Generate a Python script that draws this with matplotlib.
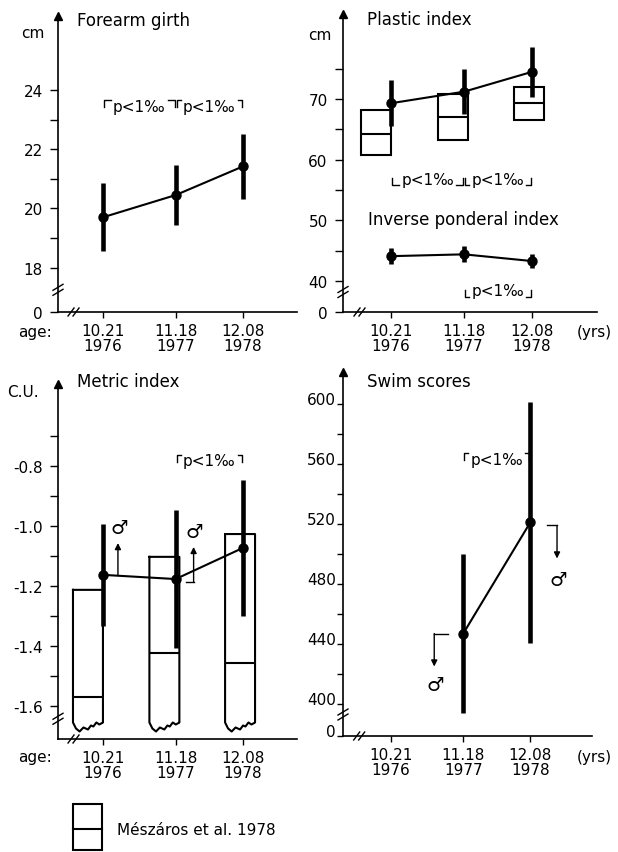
import matplotlib.pyplot as plt
from matplotlib.patches import Rectangle

# ages at the three measurements and the calendar years
ages = [10.21, 11.18, 12.08]
years = [1976, 1977, 1978]
tick_labels = [f"{a:.2f}\n{y}" for a, y in zip(ages, years)]

# forearm girth (cm): mean and sd
forearm_mean = [19.7, 20.45, 21.42]
forearm_sd = [1.15, 1.02, 1.1]

# plastic index (cm)
plastic_mean = [69.3, 71.2, 74.45]
plastic_sd = [3.75, 3.7, 4.15]

# inverse ponderal index
ipi_mean = [44.1, 44.4, 43.3]
ipi_sd = [1.3, 1.3, 1.2]

# metric index (C.U.)
metric_mean = [-1.163, -1.177, -1.073]
metric_sd = [0.17, 0.23, 0.227]

# swim scores (only measured in 1977 and 1978)
swim_ages = [11.18, 12.08]
swim_mean = [447, 521]
swim_sd = [53, 80]

# reference data, Mészáros et al. 1978 (box: top, middle line, bottom)
ref_ages = [10.01, 11.03, 12.04]
ref_plastic_top = [68.2, 70.8, 72.0]
ref_plastic_mid = [64.2, 67.0, 69.3]
ref_plastic_bot = [60.7, 63.2, 66.5]
ref_metric_top = [-1.213, -1.103, -1.027]
ref_metric_mid = [-1.57, -1.423, -1.457]

W, H = 618, 853
FS = 11
plt.rcParams['font.family'] = ['DejaVu Sans']
fig = plt.figure(figsize=(W / 100, H / 100), dpi=100)
renderer = fig.canvas.get_renderer()


def px_axes(left, top, right, bottom):
    return fig.add_axes([left / W, 1 - bottom / H, (right - left) / W, (bottom - top) / H])


def ftext(x, y, s, **kw):
    kw.setdefault('fontsize', FS)
    fig.text(x / W, 1 - y / H, s, **kw)


def px_size(ax):
    bb = ax.get_window_extent()
    x0, x1 = ax.get_xlim()
    y0, y1 = ax.get_ylim()
    return (x1 - x0) / bb.width, (y1 - y0) / bb.height, 1 / bb.width, 1 / bb.height


def style(ax, xlim, ylim, major, minor, zero=True, ybreak=0.07, swim=False):
    ax.set_xlim(xlim)
    ax.set_ylim(ylim)
    for s in ['top', 'right']:
        ax.spines[s].set_visible(False)
    for s in ['left', 'bottom']:
        ax.spines[s].set_linewidth(1.2)
    ticks = list(major)
    labels = [f"{v:g}" for v in major]
    if zero:
        ticks = [ylim[0]] + ticks
        labels = ['0'] + labels
    ax.set_yticks(ticks, labels)
    ax.set_yticks(minor, minor=True)
    if swim:
        ax.tick_params(axis='y', which='both', direction='out', length=4, width=1, pad=1, labelsize=FS)
        for lb in ax.get_yticklabels():
            lb.set_verticalalignment('baseline')
    else:
        ax.tick_params(axis='y', which='both', direction='out', length=6, width=1, pad=5, labelsize=FS)
    ax.set_xticks(ages, tick_labels)
    ax.tick_params(axis='x', direction='out', length=4, width=1, pad=4, labelsize=FS)
    for lb in ax.get_xticklabels():
        lb.set_linespacing(1.0)
    ax.patch.set_alpha(0)
    # arrow head on the y axis
    ax.plot([0], [1], marker='^', color='k', ms=6, transform=ax.transAxes, clip_on=False)
    # break marks on both axes
    _, _, fx, fy = px_size(ax)
    for off in (-2.5, 2.5):
        ax.plot([-5 * fx, 5 * fx], [ybreak + (off - 3) * fy, ybreak + (off + 3) * fy],
                color='k', lw=1, transform=ax.transAxes, clip_on=False)
        ax.plot([0.065 + (off - 3) * fx, 0.065 + (off + 3) * fx], [-4 * fy, 4 * fy],
                color='k', lw=1, transform=ax.transAxes, clip_on=False)


def series(ax, x, mean, sd):
    lo = [m - s for m, s in zip(mean, sd)]
    hi = [m + s for m, s in zip(mean, sd)]
    ax.vlines(x, lo, hi, color='k', lw=3.3)
    ax.plot(x, mean, color='k', lw=1.5, marker='o', ms=6.5)


def bracket(ax, x1, x2, y, down=True):
    sx, sy, _, _ = px_size(ax)
    sign = -1 if down else 1
    h = 7 * sy
    t = ax.text((x1 + x2) / 2, y + sign * 6 * sy, 'p<1‰', ha='center', va='center', fontsize=11)
    tw = t.get_window_extent(renderer=renderer).width * sx
    d = max((x2 - x1 - tw) / 2 - 2 * sx, 3 * sx)
    ax.plot([x1 + sx, x1 + sx, x1 + d], [y + sign * h, y, y], color='k', lw=1)
    ax.plot([x2 - d, x2 - sx, x2 - sx], [y, y, y + sign * h], color='k', lw=1)


def ref_boxes(ax, top, bot, mid, torn=False):
    sx, sy, _, _ = px_size(ax)
    w = 0.4
    for c, t, b, m in zip(ref_ages, top, bot, mid):
        x0, x1 = c - w / 2, c + w / 2
        if torn:
            fr = [0, 0.1, 0.22, 0.35, 0.5, 0.6, 0.68, 0.78, 0.88, 1]
            dy = [0, -6, -9, -5, -7, -3, -4, 0, -2, 0]
            xs = [x0, x0] + [x0 + f * w for f in fr] + [x1, x1]
            ys = [t, b] + [b + v * sy for v in dy] + [b, t]
            ax.plot(xs + [x0], ys + [t], color='k', lw=1.5)
        else:
            ax.add_patch(Rectangle((x0, b), w, t - b, fill=False, ec='k', lw=1.5))
        ax.hlines(m, x0, x1, color='k', lw=1.5)


def male(ax, x, y_from, y_to, sx, sy, hook=None):
    if hook is not None:
        ax.plot([hook, x], [y_from, y_from], color='k', lw=1)
    ax.annotate('', xy=(x, y_to), xytext=(x, y_from),
                arrowprops=dict(arrowstyle='-|>', color='k', lw=1, mutation_scale=9, shrinkA=0, shrinkB=0))
    ax.text(sx, sy, '♂', ha='center', va='center', fontsize=14)


# --- Forearm girth ---
ax1 = px_axes(58, 17, 297, 313)
style(ax1, (9.61, 12.80), (16.5, 26.5), [18, 20, 22, 24], [19, 21, 23], ybreak=0.075)
series(ax1, ages, forearm_mean, forearm_sd)
bracket(ax1, ages[0], ages[1], 23.66)
bracket(ax1, ages[1], ages[2], 23.66)
ftext(77, 21, 'Forearm girth', fontsize=12, va='center')
ftext(33, 33, 'cm', va='center', ha='center')

# --- Plastic index / inverse ponderal index ---
ax2 = px_axes(343, 15, 597, 313)
style(ax2, (9.57, 12.95), (34.9, 84.0), [40, 50, 60, 70], [45, 55, 65, 75], ybreak=0.067)
ref_boxes(ax2, ref_plastic_top, ref_plastic_bot, ref_plastic_mid)
series(ax2, ages, plastic_mean, plastic_sd)
series(ax2, ages, ipi_mean, ipi_sd)
bracket(ax2, ages[0], ages[1], 55.8, down=False)
bracket(ax2, ages[1], ages[2], 55.8, down=False)
bracket(ax2, ages[1], ages[2], 37.4, down=False)
ftext(368, 220, 'Inverse ponderal index', fontsize=12, va='center')
ftext(367, 20, 'Plastic index', fontsize=12, va='center')
ftext(320, 35, 'cm', va='center', ha='center')

# --- Metric index ---
ax3 = px_axes(58, 385, 297, 740)
style(ax3, (9.61, 12.80), (-1.71, -0.527), [-1.6, -1.4, -1.2, -1.0, -0.8],
      [-1.5, -1.3, -1.1, -0.9, -0.7], zero=False, ybreak=0.057)
ax3.set_yticks([-1.6, -1.4, -1.2, -1.0, -0.8], ['-1.6', '-1.4', '-1.2', '-1.0', '-0.8'])
ref_boxes(ax3, ref_metric_top, [-1.655] * 3, ref_metric_mid, torn=True)
series(ax3, ages, metric_mean, metric_sd)
bracket(ax3, ages[1], ages[2], -0.763)
male(ax3, ages[0] + 0.2, metric_mean[0], -1.057, ages[0] + 0.22, -1.005)
male(ax3, ages[1] + 0.24, -1.187, -1.07, ages[1] + 0.25, -1.02, hook=ages[1] + 0.14)
ftext(77, 382, 'Metric index', fontsize=12, va='center')
ftext(23, 393, 'C.U.', va='center', ha='center')

# --- Swim scores ---
ax4 = px_axes(343, 373, 592, 737)
style(ax4, (9.564, 12.91), (378.7, 621.3), [400, 440, 480, 520, 560, 600],
      [420, 460, 500, 540, 580], ybreak=0.059, swim=True)
series(ax4, swim_ages, swim_mean, swim_sd)
bracket(ax4, swim_ages[0], swim_ages[1], 567)
male(ax4, 10.79, swim_mean[0], 425, 10.8, 413, hook=10.98)
male(ax4, 12.44, 519, 497, 12.46, 483, hook=12.31)
ftext(367, 382, 'Swim scores', fontsize=12, va='center')

# axis captions
ftext(35, 333, 'age:', ha='center', va='center')
ftext(35, 758, 'age:', ha='center', va='center')
ftext(594, 333, '(yrs)', ha='center', va='center')
ftext(594, 758, '(yrs)', ha='center', va='center')

# legend for the reference boxes
leg = fig.add_axes([0, 0, 1, 1])
leg.set_xlim(0, W)
leg.set_ylim(H, 0)
leg.axis('off')
leg.add_patch(Rectangle((73, 805), 29, 46, fill=False, ec='k', lw=1.5, clip_on=False))
leg.plot([73, 102], [830, 830], color='k', lw=1.5)
ftext(117, 831, 'Mészáros et al. 1978', va='center')

fig.savefig('out.png', dpi=100)
